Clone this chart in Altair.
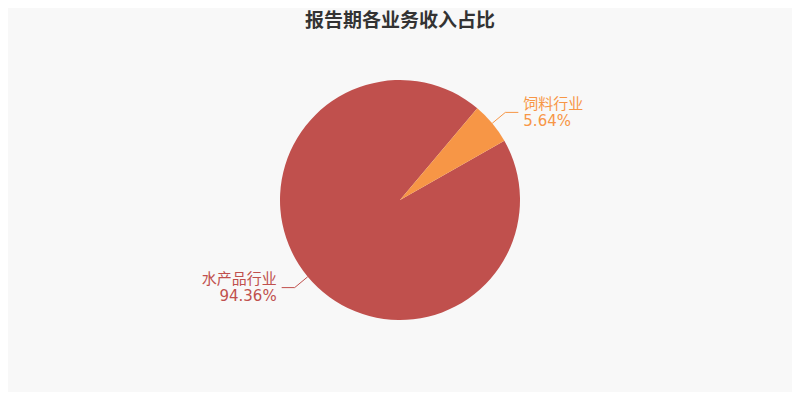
import math
import altair as alt
import pandas as pd

# ---- data ----
categories = ["水产品行业", "饲料行业"]
values = [94.36, 5.64]
colors = ["#c0504d", "#f79646"]
title_text = "报告期各业务收入占比"

# ---- layout (chart coordinates; page adds 8px margin) ----
W, H = 784, 384
CX, CY = 392, 192
R = 120
R2 = 137
HLEN = 13
GAP = 5
START = math.radians(60.4)

df = pd.DataFrame({
    "category": categories,
    "value": values,
    "idx": list(range(len(categories))),
    "label": [f"{c}\n{v:.2f}%" for c, v in zip(categories, values)],
})

color = alt.Color("category:N", scale=alt.Scale(domain=categories, range=colors), legend=None)
xs = alt.Scale(domain=[0, W], range=[0, W], nice=False, zero=False)
ys = alt.Scale(domain=[0, H], range=[0, H], nice=False, zero=False)

base = alt.Chart(df)

pie = base.mark_arc(outerRadius=R).encode(
    theta=alt.Theta("value:Q", stack=True,
                    scale=alt.Scale(range=[START, START + 2 * math.pi])),
    color=color,
    order=alt.Order("idx:Q"),
    x=alt.value(CX),
    y=alt.value(CY),
)

geo = base.transform_window(
    cum="sum(value)", sort=[alt.SortField("idx")]
).transform_joinaggregate(
    total="sum(value)"
).transform_calculate(
    a=f"{START} + 2*PI*((datum.cum - datum.value/2)/datum.total)"
).transform_calculate(
    side="sin(datum.a) >= 0 ? 1 : -1",
    p1x=f"{CX} + {R}*sin(datum.a)",
    p1y=f"{CY} - {R}*cos(datum.a)",
    p2x=f"{CX} + {R2}*sin(datum.a)",
    p2y=f"{CY} - {R2}*cos(datum.a)",
).transform_calculate(
    p3x=f"datum.p2x + datum.side*{HLEN}",
    tx=f"datum.p2x + datum.side*{HLEN + GAP}",
)

rule1 = geo.mark_rule(strokeWidth=1).encode(
    x=alt.X("p1x:Q", scale=xs, axis=None),
    y=alt.Y("p1y:Q", scale=ys, axis=None),
    x2="p2x:Q", y2="p2y:Q", color=color,
)
rule2 = geo.mark_rule(strokeWidth=1).encode(
    x=alt.X("p2x:Q", scale=xs, axis=None),
    y=alt.Y("p2y:Q", scale=ys, axis=None),
    x2="p3x:Q", y2="p2y:Q", color=color,
)

label_font = "DejaVu Sans, Noto Sans CJK SC, sans-serif"
txt_right = geo.transform_filter("datum.side > 0").mark_text(
    align="left", baseline="middle", fontSize=15, lineBreak="\n",
    lineHeight=17, font=label_font, dy=-8.5,
).encode(
    x=alt.X("tx:Q", scale=xs, axis=None),
    y=alt.Y("p2y:Q", scale=ys, axis=None),
    text="label:N", color=color,
)
txt_left = geo.transform_filter("datum.side < 0").mark_text(
    align="right", baseline="middle", fontSize=15, lineBreak="\n",
    lineHeight=17, font=label_font, dy=-8.5,
).encode(
    x=alt.X("tx:Q", scale=xs, axis=None),
    y=alt.Y("p2y:Q", scale=ys, axis=None),
    text="label:N", color=color,
)

title = alt.Chart(pd.DataFrame({"t": [title_text]})).mark_text(
    align="center", baseline="middle", fontSize=19, fontWeight="bold",
    font="Noto Sans CJK SC", color="#333333",
).encode(text="t:N", x=alt.value(CX), y=alt.value(13))

chart = alt.layer(pie, rule1, rule2, txt_right, txt_left, title).properties(
    width=W, height=H, padding=0, background="#f8f8f8",
    autosize=alt.AutoSizeParams(type="none"),
).configure_view(stroke=None)

chart.save("out.html", embed_options={"renderer": "svg", "actions": False})
